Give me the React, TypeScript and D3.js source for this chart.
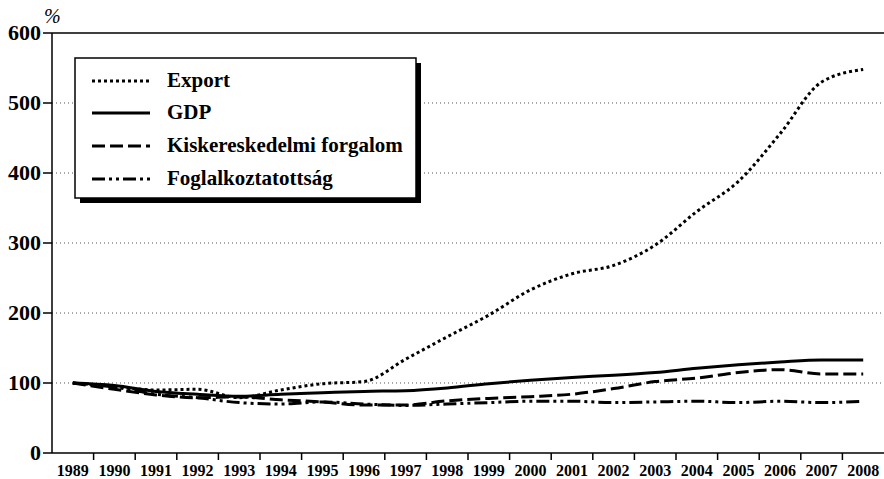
import React from "react";
import * as d3 from "d3";

const years = [1989,1990,1991,1992,1993,1994,1995,1996,1997,1998,1999,2000,2001,2002,2003,2004,2005,2006,2007,2008];
const exportVals = [100,95,90,91,79,90,99,102,134,166,197,233,256,268,297,345,388,456,530,548];
const gdpVals = [100,96.5,88,84,81,84,86,88,89,93,99,104,108,111,115,121,126,130,133,133];
const retailVals = [100,91,83,79,80,76,73,68.5,68.5,74.5,78,80.5,84,92,102,107,115,119,113,113];
const employVals = [100,94,84,79,72,70,73,70,68,70,72,74,74,72,73,74,72,74,72,74];
const yTicks = [0,100,200,300,400,500,600];

const seriesNames = ["Export","GDP","Kiskereskedelmi forgalom","Foglalkoztatottság"];
const dashes = ["3,3", "", "13,5", "13,4,3,4,3,4"];

const FONT = "Liberation Serif";

export default function App() {
  const W = 884, H = 479;
  const left = 52, right = 884, top = 33, bottom = 453;
  const x = d3.scaleBand<number>().domain(years).range([left, right]);
  const bw = x.bandwidth();
  const y = d3.scaleLinear().domain([0, 600]).range([bottom, top]);
  const line = d3.line<number>()
    .x((_, i) => (x(years[i]) as number) + bw / 2)
    .y((d) => y(d))
    .curve(d3.curveMonotoneX);
  const data = [exportVals, gdpVals, retailVals, employVals];
  const lg = { x: 75, y: 58, w: 341, h: 140 };
  const legendY = [81, 113, 146, 179];
  const ts = { fontFamily: FONT };
  return (
    <svg width={W} height={H} style={{ position: "absolute", left: 0, top: 0, background: "#fff" }}>
      {yTicks.filter(t => t > 0 && t < 600).map(t => (
        <line key={t} x1={left} x2={right} y1={y(t)} y2={y(t)} stroke="#555" strokeWidth={1} strokeDasharray="1,3" />
      ))}
      <line x1={left} x2={right} y1={y(600)} y2={y(600)} stroke="#000" strokeWidth={1.5} />
      <line x1={left} x2={right} y1={bottom} y2={bottom} stroke="#000" strokeWidth={1.5} />
      <line x1={left} x2={left} y1={top} y2={bottom} stroke="#000" strokeWidth={1.5} />
      {yTicks.map(t => (
        <g key={t}>
          <line x1={left - 9} x2={left} y1={y(t)} y2={y(t)} stroke="#000" strokeWidth={1.5} />
          <text x={left - 11} y={y(t) + 7} textAnchor="end" fontSize={22} fontWeight="bold" style={ts}>{t}</text>
        </g>
      ))}
      <text x={44} y={23} fontSize={20} fontStyle="italic" style={ts}>%</text>
      {years.map((yr, i) => (
        <g key={yr}>
          {i > 0 && <line x1={x(yr)} x2={x(yr)} y1={bottom} y2={bottom + 7} stroke="#000" strokeWidth={1.5} />}
          <text x={(x(yr) as number) + bw / 2} y={bottom + 23} textAnchor="middle" fontSize={16} fontWeight="bold" style={ts}>{yr}</text>
        </g>
      ))}
      {data.map((d, i) => (
        <path key={i} d={line(d) || ""} fill="none" stroke="#000" strokeWidth={3} strokeDasharray={dashes[i] || undefined} />
      ))}
      <rect x={lg.x + 5} y={lg.y + 5} width={lg.w} height={lg.h} fill="#000" />
      <rect x={lg.x} y={lg.y} width={lg.w} height={lg.h} fill="#fff" stroke="#000" strokeWidth={1.5} />
      {seriesNames.map((n, i) => (
        <g key={n}>
          <line x1={92} x2={150} y1={legendY[i]} y2={legendY[i]} stroke="#000" strokeWidth={3} strokeDasharray={dashes[i] || undefined} />
          <text x={167} y={legendY[i] + 6} fontSize={21} fontWeight="bold" style={ts}>{n}</text>
        </g>
      ))}
    </svg>
  );
}
